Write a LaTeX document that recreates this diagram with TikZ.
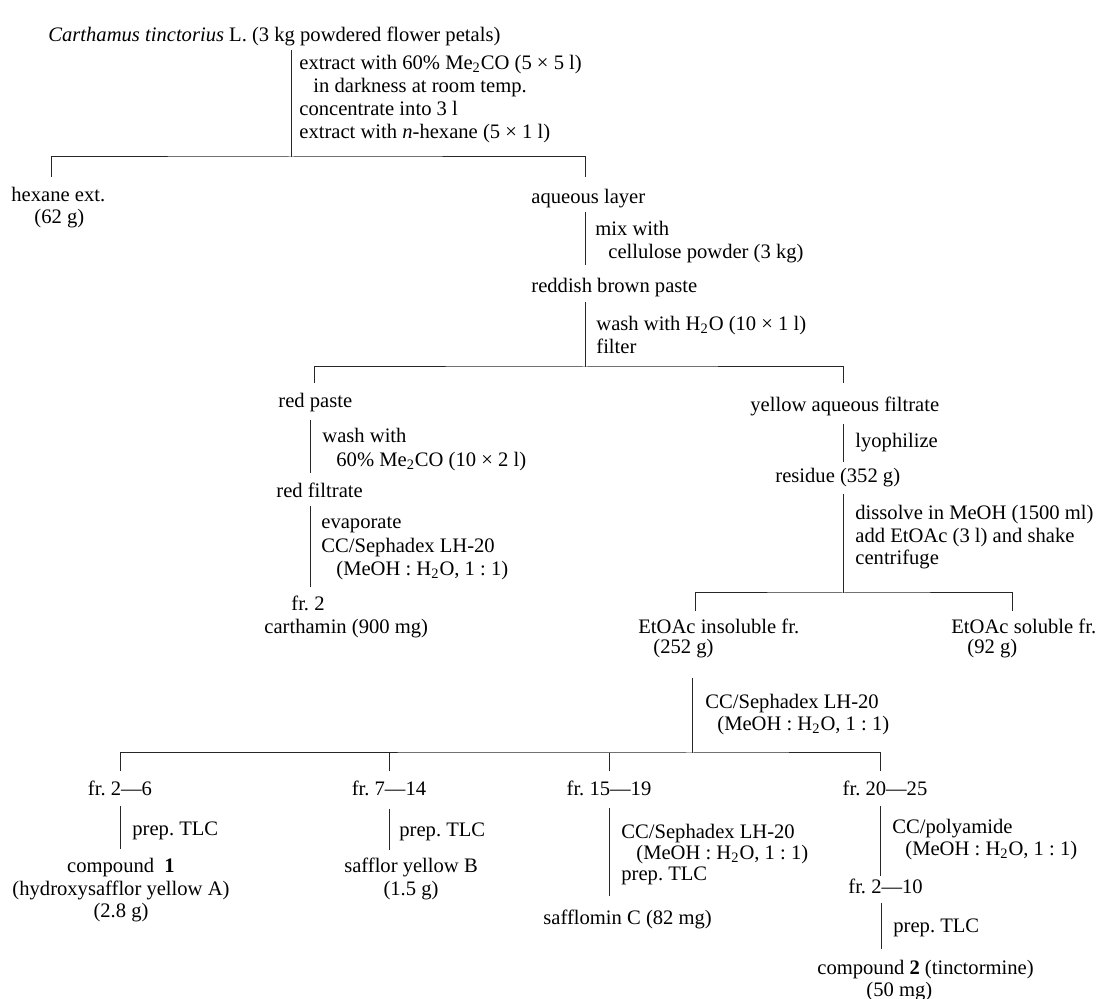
\documentclass[tikz,border=0pt]{standalone}
\usepackage{fontspec}
\setmainfont{Liberation Serif}
\newcommand{\subt}[1]{\textsubscript{#1}}
\begin{document}
\begin{tikzpicture}[x=0.5pt,y=-0.5pt,
  txt/.style={anchor=base west,inner sep=0pt,font=\fontsize{10.3}{11}\selectfont\frenchspacing},
  ctxt/.style={txt,anchor=base},
  conn/.style={draw=black!85,line width=0.5pt}]
\useasboundingbox[fill=white] (0,0) rectangle (1104,999);
% ---------- text nodes ----------
\node[txt] (title) at (48,42) {\textit{Carthamus tinctorius} L. (3 kg powdered flower petals)};
\node[txt] (s1a) at (299,70) {extract with 60\% Me\subt{2}CO (5 × 5 l)};
\node[txt] (s1b) at (313,93) {in darkness at room temp.};
\node[txt] (s1c) at (299,116) {concentrate into 3 l};
\node[txt] (s1d) at (299,139) {extract with \textit{n}-hexane (5 × 1 l)};
\node[txt] (hex) at (11,202) {hexane ext.};
\node[txt] (hexw) at (34,224) {(62 g)};
\node[txt] (aq) at (531,204) {aqueous layer};
\node[txt] (s2a) at (595,236) {mix with};
\node[txt] (s2b) at (608,259) {cellulose powder (3 kg)};
\node[txt] (rbp) at (531,293) {reddish brown paste};
\node[txt] (s3a) at (596,331) {wash with H\subt{2}O (10 × 1 l)};
\node[txt] (s3b) at (596,354) {filter};
\node[txt] (rp) at (278,408) {red paste};
\node[txt] (yaf) at (750,412) {yellow aqueous filtrate};
\node[txt] (s4a) at (322,443) {wash with};
\node[txt] (s4b) at (336,467) {60\% Me\subt{2}CO (10 × 2 l)};
\node[txt] (rf) at (276,498) {red filtrate};
\node[txt] (s5a) at (321,529) {evaporate};
\node[txt] (s5b) at (321,553) {CC/Sephadex LH-20};
\node[txt] (s5c) at (336,576) {(MeOH : H\subt{2}O, 1 : 1)};
\node[txt] (fr2) at (291,611) {fr. 2};
\node[txt] (cart) at (264,634) {carthamin (900 mg)};
\node[txt] (s6a) at (855,448) {lyophilize};
\node[txt] (res) at (775,483) {residue (352 g)};
\node[txt] (s7a) at (855,520) {dissolve in MeOH (1500 ml)};
\node[txt] (s7b) at (855,543) {add EtOAc (3 l) and shake};
\node[txt] (s7c) at (855,565) {centrifuge};
\node[txt] (ins) at (638,634) {EtOAc insoluble fr.};
\node[txt] (insw) at (653,654) {(252 g)};
\node[txt] (sol) at (951,634) {EtOAc soluble fr.};
\node[txt] (solw) at (967,654) {(92 g)};
\node[txt] (s8a) at (705,709) {CC/Sephadex LH-20};
\node[txt] (s8b) at (717,731) {(MeOH : H\subt{2}O, 1 : 1)};
\node[ctxt] (fa) at (120,796) {fr. 2—6};
\node[ctxt] (fb) at (389,796) {fr. 7—14};
\node[ctxt] (fc) at (609,796) {fr. 15—19};
\node[ctxt] (fd) at (885,796) {fr. 20—25};
\node[txt] (pa) at (132,835) {prep. TLC};
\node[ctxt] (c1a) at (121,873) {compound\ \ \textbf{1}};
\node[ctxt] (c1b) at (121,895) {(hydroxysafflor yellow A)};
\node[ctxt] (c1c) at (121,917) {(2.8 g)};
\node[txt] (pb) at (399,837) {prep. TLC};
\node[ctxt] (syb) at (411,873) {safflor yellow B};
\node[ctxt] (sybw) at (411,895) {(1.5 g)};
\node[txt] (pc1) at (621,839) {CC/Sephadex LH-20};
\node[txt] (pc2) at (636,860) {(MeOH : H\subt{2}O, 1 : 1)};
\node[txt] (pc3) at (621,881) {prep. TLC};
\node[txt] (sfc) at (543,924) {safflomin C (82 mg)};
\node[txt] (pd1) at (892,834) {CC/polyamide};
\node[txt] (pd2) at (905,856) {(MeOH : H\subt{2}O, 1 : 1)};
\node[txt] (fe) at (848,893) {fr. 2—10};
\node[txt] (pe) at (893,933) {prep. TLC};
\node[txt] (c2a) at (817,974) {compound \textbf{2} (tinctormine)};
\node[txt] (c2b) at (866,996) {(50 mg)};
% ---------- junction coordinates ----------
\coordinate (a0) at (291,50);   \coordinate (a1) at (291,157);
\coordinate (aL) at (51,177);   \coordinate (aR) at (585,177);
\coordinate (b0) at (585,212);  \coordinate (b1) at (585,265);
\coordinate (c0) at (585,302);  \coordinate (c1) at (585,367);
\coordinate (cL) at (314,383);  \coordinate (cR) at (843,383);
\coordinate (d0) at (310,420);  \coordinate (d1) at (310,473);
\coordinate (e0) at (310,506);  \coordinate (e1) at (310,587);
\coordinate (f0) at (843,424);  \coordinate (f1) at (843,462);
\coordinate (g0) at (843,494);  \coordinate (g1) at (843,593);
\coordinate (gL) at (695,611);  \coordinate (gR) at (1012,611);
\coordinate (h0) at (692,678);  \coordinate (h1) at (692,753);
\coordinate (hA) at (120,771);  \coordinate (hB) at (389,771);
\coordinate (hC) at (609,771);  \coordinate (hD) at (880,771);
\coordinate (i0) at (120,806);  \coordinate (i1) at (120,849);
\coordinate (j0) at (389,809);  \coordinate (j1) at (389,850);
\coordinate (k0) at (609,808);  \coordinate (k1) at (609,896);
\coordinate (l0) at (880,806);  \coordinate (l1) at (880,876);
\coordinate (m0) at (881,903);  \coordinate (m1) at (881,949);
% ---------- connectors ----------
\draw[conn] (a0) -- (a1);
\draw[conn] (aL) |- (a1) -| (aR);
\draw[conn] (b0) -- (b1);
\draw[conn] (c0) -- (c1);
\draw[conn] (cL) |- (c1) -| (cR);
\draw[conn] (d0) -- (d1);
\draw[conn] (e0) -- (e1);
\draw[conn] (f0) -- (f1);
\draw[conn] (g0) -- (g1);
\draw[conn] (gL) |- (g1) -| (gR);
\draw[conn] (h0) -- (h1);
\draw[conn] (hA) |- (h1) -| (hD);
\draw[conn] (hB) -- (hB |- h1);
\draw[conn] (hC) -- (hC |- h1);
\draw[conn] (i0) -- (i1);
\draw[conn] (j0) -- (j1);
\draw[conn] (k0) -- (k1);
\draw[conn] (l0) -- (l1);
\draw[conn] (m0) -- (m1);
\end{tikzpicture}
\end{document}
